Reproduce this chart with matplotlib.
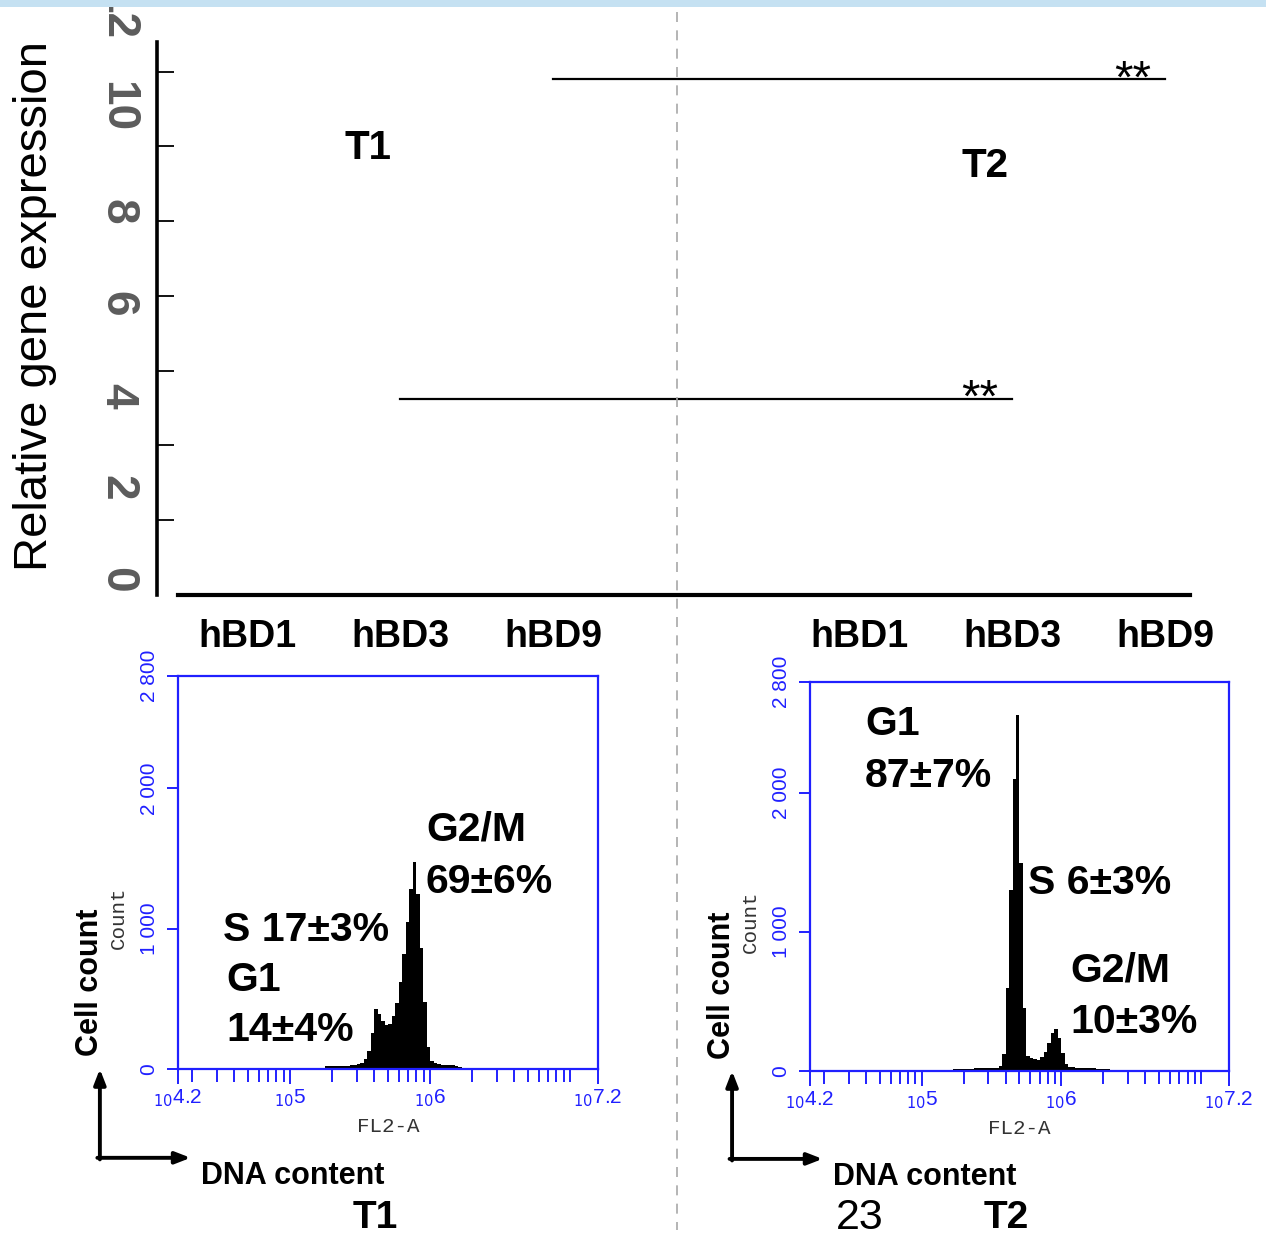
import matplotlib.pyplot as plt
import numpy as np
from matplotlib.lines import Line2D
from matplotlib.patches import Rectangle
from matplotlib.ticker import LogLocator, NullFormatter
import matplotlib.transforms as mtransforms

plt.rcParams['font.family'] = ['Liberation Sans', 'DejaVu Sans']

W, H = 1266, 1236

# bar chart part (bars themselves are missing in the source figure)
genes = ['hBD1', 'hBD3', 'hBD9']
gene_pos_t1 = [0, 1, 2]
gene_pos_t2 = [4, 5, 6]
expr_ticks = [2, 4, 6, 8, 10, 12, 14]
expr_labels = [0, 2, 4, 6, 8, 10, 12]
# significance lines: from, to, height
sig_lines = [(2, 6, 13.8), (1, 5, 5.25)]
sig_text = ['**', '**']

# flow cytometry histograms, log10(FL2-A) bins
bin_width = 0.025
t1_start = 5.25
t1_counts = [18, 18, 20, 20, 22, 22, 24, 26, 28, 35,
             45, 70, 130, 260, 430, 395, 340, 310, 320, 380,
             470, 620, 820, 1050, 1280, 1475, 1250, 860, 480, 160,
             55, 40, 35, 30, 30, 25, 25, 20, 12, 8]
t2_start = 5.225
t2_counts = [15, 15, 15, 15, 15, 15, 18, 18, 18, 18,
             18, 20, 25, 35, 120, 600, 1300, 2100, 2560, 1500,
             450, 110, 90, 85, 80, 100, 140, 200, 270, 305,
             240, 130, 50, 30, 28, 25, 25, 22, 20, 20,
             18, 15, 15, 15, 15, 10]
x_ticks_log = [4.2, 5, 6, 7.2]
x_tick_text = ['4.2', '5', '6', '7.2']
count_ticks = [0, 1000, 2000, 2800]
count_tick_text = ['0', '1 000', '2 000', '2 800']
# phase annotations: text, log10 x, count
t1_phases = [('G2/M', 5.971, 1703), ('69±6%', 5.971, 1332),
             ('S 17±3%', 4.521, 990), ('G1', 4.543, 634), ('14±4%', 4.543, 278)]
t2_phases = [('G1', 4.594, 2498), ('87±7%', 4.594, 2123),
             ('S 6±3%', 5.761, 1353), ('G2/M', 6.061, 720), ('10±3%', 6.061, 353)]

blue = '#2020ff'

fig = plt.figure(figsize=(W / 100, H / 100), dpi=100)

# ---------------- top chart ----------------
ax = fig.add_axes([157 / W, 1 - 595 / H, (1190 - 157) / W, (595 - 42) / H])
ax.set_xlim(-0.588, 6.163)
ax.set_ylim(0, 14.79)
for s in ['top', 'right', 'bottom']:
    ax.spines[s].set_visible(False)
ax.spines['left'].set_linewidth(2.6)
ax.axhline(0, xmin=(178 - 157) / 1033, xmax=1, color='black', lw=3, clip_on=False)
ax.set_yticks(expr_ticks)
ax.tick_params(axis='y', direction='in', length=12, width=1.3, labelleft=False)
ax.set_xticks(gene_pos_t1 + gene_pos_t2)
ax.set_xticklabels(genes + genes, fontsize=27, fontweight='bold')
ax.tick_params(axis='x', length=0, pad=17)

trans = mtransforms.blended_transform_factory(ax.transAxes, ax.transData)
for v in expr_labels:
    ax.text(-0.0387, 0.054 + 1.233 * v, str(v), transform=trans, rotation=-90,
            ha='center', va='bottom', fontsize=33, fontweight='bold', color='#5c5c5c')

for (x0, x1, y), t in zip(sig_lines, sig_text):
    ax.plot([x0, x1], [y, y], color='black', lw=1.6)
    ax.text(x1 - 0.21, y - 0.36, t, ha='center', va='baseline', fontsize=34)

ax.text(0.79, 11.96, 'T1', ha='center', va='center', fontsize=29, fontweight='bold')
ax.text(4.82, 11.48, 'T2', ha='center', va='center', fontsize=29, fontweight='bold')

fig.text(35 / W, 1 - 306 / H, 'Relative gene expression', rotation=90,
         ha='center', va='center', fontsize=34)


# ---------------- histograms ----------------
def draw_hist(box, start, counts, phases, group, extra=None):
    h = fig.add_axes(box)
    h.set_xscale('log')
    edges = 10 ** (start + bin_width * np.arange(len(counts) + 1))
    h.stairs(counts, edges, fill=True, color='black')
    h.set_xlim(10 ** 4.2, 10 ** 7.2)
    h.set_ylim(0, 2800)
    for s in h.spines.values():
        s.set_color(blue)
        s.set_linewidth(1.6)
    h.set_yticks(count_ticks)
    h.set_yticklabels(count_tick_text, rotation=90, va='center',
                      fontsize=15, color=blue)
    h.set_xticks([10 ** v for v in x_ticks_log])
    h.set_xticklabels([r'$_{10}$' + t for t in x_tick_text], fontsize=15, color=blue)
    h.xaxis.set_minor_locator(LogLocator(subs=range(1, 10), numticks=30))
    h.xaxis.set_minor_formatter(NullFormatter())
    h.tick_params(which='both', colors=blue, width=1.4)
    h.tick_params(axis='x', which='major', length=11, pad=2)
    h.tick_params(axis='x', which='minor', length=9)
    h.tick_params(axis='y', length=8, pad=6)
    h.set_xlabel('FL2-A', fontsize=15, family='Liberation Mono', color='#333333', labelpad=6)
    h.text(-0.143, 0.384, 'Count', transform=h.transAxes, rotation=90, ha='center',
           va='center', fontsize=15, family='Liberation Mono', color='#333333')
    h.text(-0.21, 0.22, 'Cell count', transform=h.transAxes, rotation=90, ha='center',
           va='center', fontsize=22, fontweight='bold')
    for t, lx, c in phases:
        h.text(10 ** lx, c, t, ha='left', va='center', fontsize=29.5, fontweight='bold')
    h.annotate('', xy=(-0.186, 0.0), xytext=(-0.186, -0.23), xycoords='axes fraction',
               arrowprops=dict(arrowstyle='-|>,head_length=0.9,head_width=0.35',
                               lw=2.8, color='black', shrinkA=0, shrinkB=0))
    h.annotate('', xy=(0.03, -0.226), xytext=(-0.192, -0.226), xycoords='axes fraction',
               arrowprops=dict(arrowstyle='-|>,head_length=0.9,head_width=0.35',
                               lw=2.8, color='black', shrinkA=0, shrinkB=0))
    h.text(0.274, -0.272, 'DNA content', transform=h.transAxes, ha='center',
           va='center', fontsize=22, fontweight='bold')
    h.text(0.469, -0.379, group, transform=h.transAxes, ha='center', va='center',
           fontsize=28, fontweight='bold')
    if extra:
        h.text(0.119, -0.379, extra, transform=h.transAxes, ha='center', va='center',
               fontsize=31)
    return h


draw_hist([178 / W, 1 - 1069 / H, 420 / W, 393 / H], t1_start, t1_counts, t1_phases, 'T1')
draw_hist([810 / W, 1 - 1071 / H, 419 / W, 389 / H], t2_start, t2_counts, t2_phases, 'T2', '23')

# divider and top band
fig.add_artist(Line2D([677 / W, 677 / W], [1 - 12 / H, 1 - 1230 / H], transform=fig.transFigure,
                      color='#a8a8a8', lw=1.2, ls=(0, (6, 5))))
fig.add_artist(Rectangle((0, 1 - 7 / H), 1, 7 / H, transform=fig.transFigure,
                         facecolor='#c5e1f2', edgecolor='none', zorder=100))

fig.savefig('out.png', dpi=100)
